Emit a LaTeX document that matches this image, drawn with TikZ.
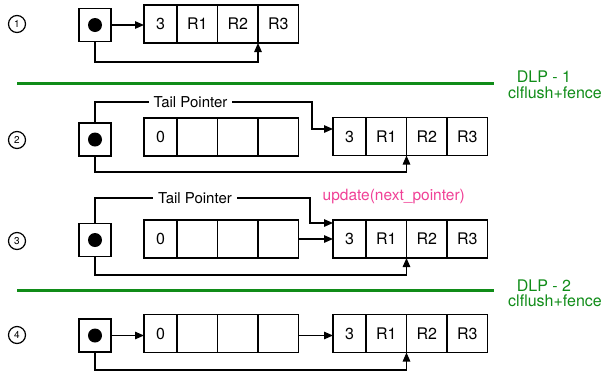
\documentclass[tikz,border=0pt]{standalone}
\usepackage{fontspec}
\setmainfont{TeX Gyre Heros}
\usetikzlibrary{positioning,arrows.meta}

\definecolor{dlpgreen}{RGB}{16,140,24}
\definecolor{notepink}{RGB}{240,64,150}

\begin{document}
\begin{tikzpicture}[x=1pt, y=-1pt, line width=1.3pt, >={Triangle[length=9pt,width=7.5pt]},
    cell/.style={draw, rectangle, minimum width=40.5pt, minimum height=38pt, inner sep=0pt, outer sep=0pt, font=\fontsize{16}{16}\selectfont},
    first/.style={cell, minimum width=33pt},
    head/.style={draw, rectangle, minimum width=32pt, minimum height=33pt, outer sep=0pt},
    dot/.style={circle, fill=black, minimum size=14pt, inner sep=0pt},
    stepnum/.style={draw, circle, minimum size=17pt, inner sep=0pt, line width=1.2pt, font=\fontsize{10}{10}\selectfont},
    tailtext/.style={fill=white, inner xsep=5pt, inner ysep=1pt, font=\fontsize{15}{15}\selectfont},
    dlptext/.style={text=dlpgreen, inner sep=0pt, font=\fontsize{16}{16}\selectfont},
    sep/.style={draw=dlpgreen, line width=3pt}]
    \useasboundingbox (0,0) rectangle (605,373);

    % step 1: head points at the only node
    \node [stepnum] (n1) at (17,24) {1};
    \node [head] (h1) at (95,25) {};
    \node [dot] at (h1) {};
    \node [first, anchor=west] (a1) at (144,24) {3};
    \node [cell, right=0pt of a1] (b1) {R1};
    \node [cell, right=0pt of b1] (c1) {R2};
    \node [cell, right=0pt of c1] (d1) {R3};
    \draw [->] (h1.east) -- (a1.west |- h1.east);
    \draw [->] (h1.south) -- ++(0,20.5) -| (c1.south east);

    \draw [sep] (17,83) -- (494,83);
    \node [dlptext] (dlp1) at (544,77) {DLP - 1};
    \node [dlptext] (flush1) at (555,93) {clflush+fence};

    % step 2: new node written, tail pointer still on the old one
    \node [stepnum] (n2) at (17,140) {2};
    \node [head] (h2) at (95,139.5) {};
    \node [dot] at (h2) {};
    \node [first, anchor=west] (a2) at (144,137) {0};
    \node [cell, right=0pt of a2] (b2) {};
    \node [cell, right=0pt of b2] (c2) {};
    \node [cell, right=0pt of c2] (d2) {};
    \node [first, anchor=west] (p2) at (333,136.5) {3};
    \node [cell, right=0pt of p2] (q2) {R1};
    \node [cell, right=0pt of q2] (r2) {R2};
    \node [cell, right=0pt of r2] (s2) {R3};
    \draw [->] (h2.north) -- ++(0,-21) -- node [tailtext, pos=0.44] {Tail Pointer} ++(217,0) |- ([yshift=7.5pt]p2.west);
    \draw [->] (h2.south) -- ++(0,16) -| (q2.south east);

    % step 3: next pointer of the tail updated
    \node [stepnum] (n3) at (17,241) {3};
    \node [head] (h3) at (95,240) {};
    \node [dot] at (h3) {};
    \node [first, anchor=west] (a3) at (144,239) {0};
    \node [cell, right=0pt of a3] (b3) {};
    \node [cell, right=0pt of b3] (c3) {};
    \node [cell, right=0pt of c3] (d3) {};
    \node [first, anchor=west] (p3) at (333,239) {3};
    \node [cell, right=0pt of p3] (q3) {R1};
    \node [cell, right=0pt of q3] (r3) {R2};
    \node [cell, right=0pt of r3] (s3) {R3};
    \node [text=notepink, anchor=west, inner sep=0pt, font=\fontsize{15.5}{16}\selectfont] (upd) at (322,197) {update(next\_pointer)};
    \draw [->] (h3.north) -- ++(0,-25.5) -- node [tailtext, pos=0.465] {Tail Pointer} ++(215,0) |- ([yshift=16pt]p3.west);
    \draw [->] (d3.east) -- (p3.west);
    \draw [->] (h3.south) -- ++(0,18.5) -| (q3.south east);

    \draw [sep] (17,290) -- (494,290);
    \node [dlptext] (dlp2) at (544,286) {DLP - 2};
    \node [dlptext] (flush2) at (555,301) {clflush+fence};

    % step 4: head moved to the new node
    \node [stepnum] (n4) at (17,335) {4};
    \node [head] (h4) at (95,335.5) {};
    \node [dot] at (h4) {};
    \node [first, anchor=west] (a4) at (144,333.5) {0};
    \node [cell, right=0pt of a4] (b4) {};
    \node [cell, right=0pt of b4] (c4) {};
    \node [cell, right=0pt of c4] (d4) {};
    \node [first, anchor=west] (p4) at (333,333.5) {3};
    \node [cell, right=0pt of p4] (q4) {R1};
    \node [cell, right=0pt of q4] (r4) {R2};
    \node [cell, right=0pt of r4] (s4) {R3};
    \draw [->] (h4.east) -- (a4.west |- h4.east);
    \draw [->] (d4.east |- h4.east) -- (p4.west |- h4.east);
    \draw [->] (h4.south) -- ++(0,18) -| (q4.south east);
\end{tikzpicture}
\end{document}
